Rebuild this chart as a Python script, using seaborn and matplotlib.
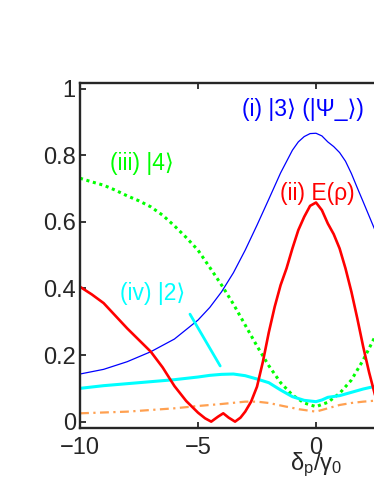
import matplotlib
matplotlib.use("Agg")
import matplotlib.pyplot as plt
import seaborn as sns

# (i) |3> population (thin blue)
blue_x = [-10, -9, -8, -7, -6, -5, -4.5, -4, -3.5, -3, -2.5, -2, -1.5, -1, -0.75,
          -0.5, -0.25, 0, 0.25, 0.5, 0.75, 1.0, 1.25, 1.5, 1.75, 2.0, 2.5, 3]
blue_y = [0.143, 0.157, 0.18, 0.21, 0.248, 0.305, 0.343, 0.39, 0.447, 0.515, 0.59,
          0.668, 0.747, 0.815, 0.84, 0.856, 0.865, 0.866, 0.858, 0.84, 0.826, 0.808,
          0.782, 0.745, 0.702, 0.66, 0.575, 0.49]

# (ii) entanglement E(rho) (thick red)
red_x = [-10, -9.5, -9, -8.5, -8, -7.5, -7, -6.5, -6, -5.5, -5, -4.7, -4.44, -4.15,
         -3.93, -3.7, -3.43, -3.2, -3.0, -2.75, -2.5, -2.25, -2, -1.75, -1.5, -1.25,
         -1, -0.75, -0.5, -0.25, 0, 0.25, 0.5, 0.75, 1.0, 1.25, 1.5, 1.75, 2.0, 2.25,
         2.5, 2.75, 3]
red_y = [0.405, 0.382, 0.356, 0.318, 0.28, 0.245, 0.21, 0.163, 0.107, 0.062, 0.027,
         0.01, 0.0, 0.015, 0.025, 0.012, 0.0, 0.012, 0.03, 0.06, 0.105, 0.18, 0.268,
         0.345, 0.41, 0.46, 0.52, 0.575, 0.615, 0.648, 0.658, 0.635, 0.595, 0.563,
         0.52, 0.46, 0.39, 0.31, 0.225, 0.148, 0.08, 0.035, 0.01]

# (iii) |4> population (green dotted)
green_x = [-10, -9.5, -9, -8.5, -8, -7.5, -7, -6.5, -6, -5.5, -5, -4.5, -4, -3.5, -3,
           -2.5, -2, -1.5, -1, -0.5, 0, 0.5, 1.0, 1.5, 2.0, 2.5, 3]
green_y = [0.731, 0.72, 0.71, 0.695, 0.678, 0.663, 0.645, 0.62, 0.588, 0.553, 0.515,
           0.463, 0.41, 0.353, 0.29, 0.227, 0.168, 0.117, 0.08, 0.056, 0.045, 0.058,
           0.085, 0.125, 0.185, 0.255, 0.32]

# (iv) |2> population (cyan)
cyan_x = [-10, -9, -8, -7, -6, -5, -4.5, -4, -3.5, -3, -2.5, -2, -1.5, -1, -0.5, 0,
          0.25, 0.5, 1.0, 1.5, 2, 2.5, 3]
cyan_y = [0.1, 0.108, 0.114, 0.12, 0.126, 0.134, 0.139, 0.142, 0.143, 0.138, 0.128,
          0.117, 0.095, 0.075, 0.064, 0.06, 0.065, 0.073, 0.078, 0.088, 0.098, 0.106,
          0.112]

# remaining population (orange dash-dot)
orange_x = [-10, -8, -6, -5, -4, -3, -2.5, -2, -1.4, -0.7, 0, 0.5, 1, 1.5, 2, 2.5, 3]
orange_y = [0.025, 0.03, 0.04, 0.047, 0.053, 0.06, 0.06, 0.056, 0.047, 0.037, 0.03,
            0.04, 0.05, 0.056, 0.06, 0.063, 0.065]

# only the ticks that fall inside the cropped picture
xticks = [-10, -5, 0]
xtick_labels = ["\u221210", "\u22125", "0"]
yticks = [0, 0.2, 0.4, 0.6, 0.8, 1]
ytick_labels = ["0", "0.2", "0.4", "0.6", "0.8", "1"]

sns.set_style("ticks")
plt.rcParams["font.family"] = ["Liberation Sans", "DejaVu Sans"]
plt.rcParams["mathtext.fontset"] = "custom"
plt.rcParams["mathtext.rm"] = "Liberation Sans"

fig = plt.figure(figsize=(3.74, 4.84), dpi=100)
# the axes run off the right edge, like the cropped original
ax = fig.add_axes([80 / 374, 55.7 / 484, 472 / 374, 345 / 484])

sns.lineplot(x=orange_x, y=orange_y, ax=ax, color="#ffa050", lw=1.6,
             linestyle=(0, (4, 2, 1, 2)))
sns.lineplot(x=blue_x, y=blue_y, ax=ax, color="#0000ff", lw=0.9)
sns.lineplot(x=green_x, y=green_y, ax=ax, color="#00ff00", lw=2.2,
             linestyle=(0, (1, 1.2)))
sns.lineplot(x=cyan_x, y=cyan_y, ax=ax, color="#00ffff", lw=2.2)
sns.lineplot(x=red_x, y=red_y, ax=ax, color="#ff0000", lw=1.9)

ax.set_xlim(-10, 10)
ax.set_ylim(-0.02, 1.016)
ax.set_xticks(xticks, xtick_labels)
ax.set_yticks(yticks, ytick_labels)
ax.tick_params(direction="in", top=True, right=True, length=4, width=1.3,
               labelsize=17)
ax.tick_params(axis="x", pad=6)
ax.tick_params(axis="y", pad=3)
for sp in ax.spines.values():
    sp.set_linewidth(1.7)

ax.set_xlabel(r"$\mathregular{\delta_p/\gamma_0}$", fontsize=17)
ax.xaxis.set_label_coords(0.5, -0.065)

fs = 16.5
ax.text(-3.15, 0.936, "(i) |3\u27e9 (|\u03a8_\u27e9)", color="#0000ff", fontsize=fs,
        va="center")
ax.text(-1.53, 0.686, "(ii) E(\u03c1)", color="#ff0000", fontsize=fs, va="center")
ax.text(-8.73, 0.776, "(iii) |4\u27e9", color="#00ff00", fontsize=fs, va="center")
ax.text(-8.3, 0.386, "(iv) |2\u27e9", color="#00ffff", fontsize=fs, va="center")
ax.annotate("", xy=(-4.0, 0.16), xytext=(-5.4, 0.33),
            arrowprops=dict(arrowstyle="-", color="#00ffff", lw=2))

fig.savefig("out.png", dpi=100)
